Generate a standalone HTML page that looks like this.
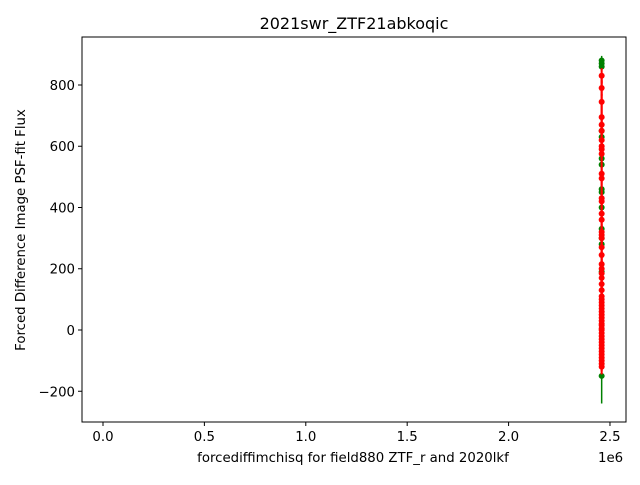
<!DOCTYPE html>
<html><head><meta charset="utf-8"><style>
body{margin:0;background:#fff;font-family:"Liberation Sans","DejaVu Sans",sans-serif}
svg text{font-family:"DejaVu Sans","Liberation Sans",sans-serif;font-size:13.3px;fill:#000}
</style></head><body>
<svg id="c" width="640" height="480" xmlns="http://www.w3.org/2000/svg">
<rect width="640" height="480" fill="#fff"/>
<text x="354" y="29" text-anchor="middle" style="font-size:16px">2021swr_ZTF21abkoqic</text>
<g id="plot"></g>
<rect x="82" y="37" width="544" height="385" fill="none" stroke="#000" stroke-width="1"/>
<text x="353" y="462" text-anchor="middle">forcediffimchisq for field880 ZTF_r and 2020lkf</text>
<text x="598" y="462">1e6</text>
<text transform="translate(25,230) rotate(-90)" text-anchor="middle">Forced Difference Image PSF-fit Flux</text>
</svg>
<script>
const xTicks=[0,0.5,1,1.5,2,2.5];
const xTickLabels=["0.0","0.5","1.0","1.5","2.0","2.5"];
const yTicks=[-200,0,200,400,600,800];
const yTickLabels=["\u2212200","0","200","400","600","800"];
const greenX=[2.459,2.459,2.459,2.459,2.459,2.459,2.459,2.459,2.459,2.459,2.459,2.459,2.459,2.459,2.459];
const greenY=[880,870,860,650,630,560,540,460,450,400,330,300,280,190,-150];
const greenErr=[15,15,15,15,15,15,15,15,15,15,15,15,15,15,90];
const redY=[830,790,745,695,670,650,620,600,590,575,510,495,430,420,380,360,320,310,300,270,245,215,200,185,170,150,130,110,100,90,80,70,60,50,40,30,20,15,5,0,-10,-20,-30,-40,-50,-60,-70,-80,-90,-100,-110,-120];
const redErr=redY.map(()=>25);
const X0=-0.1035,X1=2.579,PX0=82,PX1=626,Y0=-300.4,Y1=956.7,PY0=422,PY1=37;
const sx=v=>PX0+(v-X0)/(X1-X0)*(PX1-PX0);
const sy=v=>PY0+(v-Y0)/(Y1-Y0)*(PY1-PY0);
const NS="http://www.w3.org/2000/svg";
const svg=document.getElementById('c'),g=document.getElementById('plot');
function mk(t,a,p){const e=document.createElementNS(NS,t);for(const k in a)e.setAttribute(k,a[k]);(p||g).appendChild(e);return e;}
xTicks.forEach((v,i)=>{
 const l=mk('line',{x1:sx(v),x2:sx(v),y1:422,y2:426,stroke:'#000'},svg);
 
 
 const t=mk('text',{x:sx(v),y:441,'text-anchor':'middle'},svg);t.textContent=xTickLabels[i];
 
 
});
yTicks.forEach((v,i)=>{
 const l=mk('line',{x1:78,x2:82,y1:sy(v),y2:sy(v),stroke:'#000'},svg);
 
 
 const t=mk('text',{x:75,y:sy(v)+5,'text-anchor':'end'},svg);t.textContent=yTickLabels[i];
 
 
});
function series(xs,ys,es,col,name,w){
 ys.forEach((y,i)=>{
  const x=sx(xs[i]);
  const e=mk('line',{x1:x,x2:x,y1:sy(y-es[i]),y2:sy(y+es[i]),stroke:col,'stroke-width':w});
  
  
 });
 const pts=ys.map((y,i)=>[xs[i],y]).sort((a,b)=>a[1]-b[1]);
 const pl=mk('polyline',{points:pts.map(p=>sx(p[0])+','+sy(p[1])).join(' '),fill:'none',stroke:col,'stroke-width':w});
 
 
 ys.forEach((y,i)=>{
  const c=mk('circle',{cx:sx(xs[i]),cy:sy(y),r:3,fill:col});
  
  
 });
}
series(greenX,greenY,greenErr,'green','g-band',1.5);
const redX=redY.map(()=>2.459);
series(redX,redY,redErr,'red','r-band',2);
</script>
</body></html>
